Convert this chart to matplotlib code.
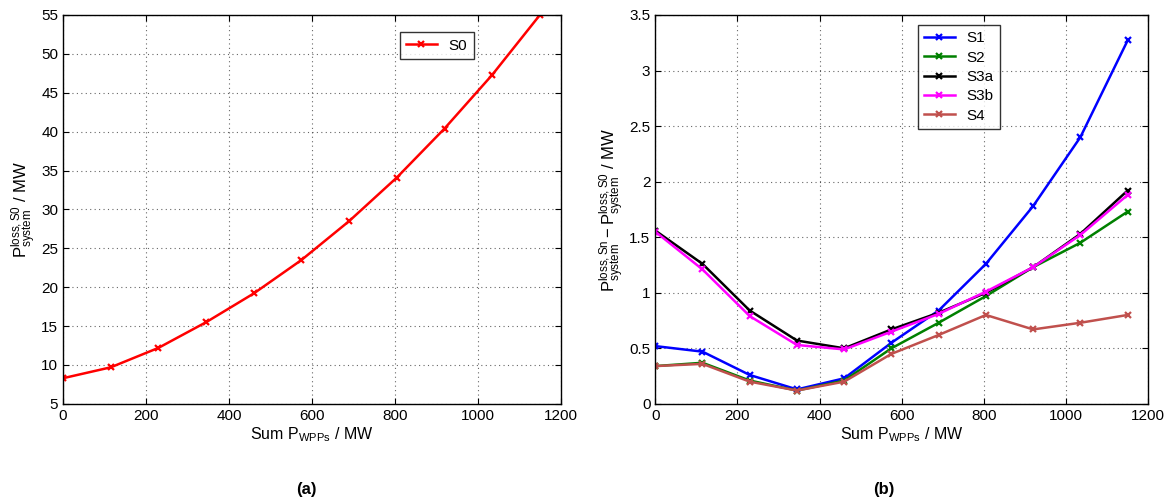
import numpy as np
import matplotlib
matplotlib.use("Agg")
import matplotlib.pyplot as plt

plt.rcParams['font.family'] = ['Liberation Sans', 'DejaVu Sans']
plt.rcParams['mathtext.fontset'] = 'custom'
plt.rcParams['mathtext.rm'] = 'Liberation Sans'
plt.rcParams['mathtext.it'] = 'Liberation Sans:italic'

# data
p_wpp = [0, 115, 230, 345, 460, 575, 690, 805, 920, 1035, 1150]
loss_s0 = [8.3, 9.7, 12.2, 15.5, 19.2, 23.5, 28.5, 34.1, 40.4, 47.3, 55.0]

s1 = [0.52, 0.47, 0.26, 0.13, 0.23, 0.55, 0.84, 1.26, 1.78, 2.40, 3.27]
s2 = [0.34, 0.37, 0.21, 0.12, 0.21, 0.50, 0.73, 0.97, 1.23, 1.45, 1.73]
s3a = [1.56, 1.26, 0.84, 0.57, 0.50, 0.67, 0.82, 1.00, 1.23, 1.53, 1.92]
s3b = [1.55, 1.21, 0.79, 0.53, 0.49, 0.65, 0.81, 1.01, 1.23, 1.52, 1.88]
s4 = [0.34, 0.36, 0.20, 0.12, 0.20, 0.45, 0.62, 0.80, 0.67, 0.73, 0.80]

names = ['S1', 'S2', 'S3a', 'S3b', 'S4']
colors = ['#0000ff', '#008000', '#000000', '#ff00ff', '#c0504d']

fig = plt.figure(figsize=(11.68, 4.98), dpi=100)
ax1 = fig.add_axes([0.054, 0.189, 0.426, 0.781])
ax2 = fig.add_axes([0.561, 0.189, 0.422, 0.781])

ax1.plot(p_wpp, loss_s0, color='red', marker='x', lw=1.8, ms=5, mew=1.6, label='S0')
ax1.set_xlim(0, 1200)
ax1.set_ylim(5, 55)
ax1.set_xticks(np.arange(0, 1201, 200))
ax1.set_yticks(np.arange(5, 56, 5))
ax1.set_xlabel(r'Sum $\mathregular{P_{WPPs}}$ / MW', fontsize=11.5, labelpad=2)
ax1.set_ylabel(r'$\mathregular{P_{system}^{loss,S0}}$ / MW', fontsize=12, labelpad=2)
leg1 = ax1.legend(loc='upper left', bbox_to_anchor=(0.677, 0.955), fontsize=11,
                  fancybox=False, edgecolor='black', borderaxespad=0)
leg1.get_frame().set_linewidth(1.0)

data = [s1, s2, s3a, s3b, s4]
for name, vals, c in zip(names, data, colors):
    ax2.plot(p_wpp, vals, color=c, marker='x', lw=1.8, ms=5, mew=1.6, label=name)
ax2.set_xlim(0, 1200)
ax2.set_ylim(0, 3.5)
ax2.set_xticks(np.arange(0, 1201, 200))
ax2.set_yticks(np.arange(0, 3.51, 0.5))
ax2.set_yticklabels(['0', '0.5', '1', '1.5', '2', '2.5', '3', '3.5'])
ax2.set_xlabel(r'Sum $\mathregular{P_{WPPs}}$ / MW', fontsize=11.5, labelpad=2)
ax2.set_ylabel(r'$\mathregular{P_{system}^{loss,Sn} - P_{system}^{loss,S0}}$ / MW',
               fontsize=12, labelpad=2)
leg2 = ax2.legend(loc='upper left', bbox_to_anchor=(0.533, 0.974), fontsize=11,
                  fancybox=False, edgecolor='black', borderaxespad=0,
                  labelspacing=0.35)
leg2.get_frame().set_linewidth(1.0)

for ax in (ax1, ax2):
    ax.grid(True, linestyle=(0, (1, 3)), color='black', lw=0.8, alpha=0.6)
    ax.tick_params(direction='in', labelsize=11, top=True, right=True, length=4)
    for sp in ax.spines.values():
        sp.set_linewidth(1.0)

fig.text(0.262, 0.008, '(a)', fontsize=12, fontweight='bold', ha='center')
fig.text(0.757, 0.008, '(b)', fontsize=12, fontweight='bold', ha='center')

fig.savefig('out.png', dpi=100)
